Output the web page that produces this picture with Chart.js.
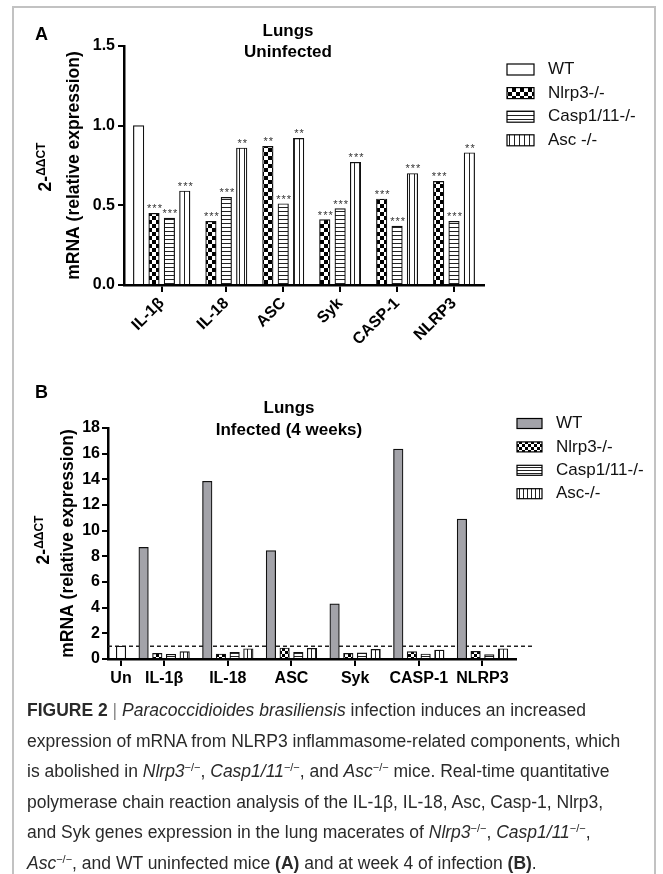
<!DOCTYPE html>
<html>
<head>
<meta charset="utf-8">
<script src="https://cdn.jsdelivr.net/npm/chart.js@4.4.1/dist/chart.umd.min.js"></script>
<style>
  body { margin: 0; background: #fff; }
  #page { position: relative; width: 663px; height: 874px; overflow: hidden;
          font-family: "Liberation Sans", Arial, Helvetica, sans-serif; color: #000; }
  #frame { position: absolute; left: 12px; top: 6px; width: 640px; height: 900px;
           border: 2px solid #c2c2c2; border-bottom: none; }
  canvas { position: absolute; left: 0; }
  .letter { position: absolute; left: 35px; font-weight: bold; font-size: 18px; line-height: 18px; }
  .title { position: absolute; width: 240px; text-align: center; font-weight: bold;
           font-size: 17px; line-height: 21px; }
  .ylab { position: absolute; transform: translate(-50%, -50%) rotate(-90deg);
          white-space: nowrap; font-weight: bold; font-size: 17.5px; }
  .ylab sup { font-size: 12px; }
  #caption { position: absolute; left: 27px; top: 695px; width: 630px; font-size: 17.5px;
             line-height: 30.5px; color: #2a2a2a; white-space: nowrap; }
  #caption sup { font-size: 11px; line-height: 0; vertical-align: 6px; }
  #caption .sep { color: #888; }
</style>
</head>
<body>
<div id="page">
  <div id="frame"></div>
  <canvas id="chartA" width="663" height="360" style="top:0"></canvas>
  <canvas id="chartB" width="663" height="340" style="top:360px"></canvas>

  <div class="letter" style="top:25px">A</div>
  <div class="title" style="left:168px;top:20px">Lungs<br>Uninfected</div>
  <div class="ylab" style="left:45px;top:167px">2-<sup>ΔΔCT</sup></div>

  <div class="letter" style="top:383px">B</div>
  <div class="title" style="left:169px;top:397px;line-height:22px">Lungs<br>Infected (4 weeks)</div>
  <div class="ylab" style="left:43px;top:540px">2-<sup>ΔΔCT</sup></div>

  <div id="caption">
    <b>FIGURE 2</b> <span class="sep">|</span> <i>Paracoccidioides brasiliensis</i> infection induces an increased<br>
    expression of mRNA from NLRP3 inflammasome-related components, which<br>
    is abolished in <i>Nlrp3</i><sup>−/−</sup>, <i>Casp1/11</i><sup>−/−</sup>, and <i>Asc</i><sup>−/−</sup> mice. Real-time quantitative<br>
    polymerase chain reaction analysis of the IL-1β, IL-18, Asc, Casp-1, Nlrp3,<br>
    and Syk genes expression in the lung macerates of <i>Nlrp3</i><sup>−/−</sup>, <i>Casp1/11</i><sup>−/−</sup>,<br>
    <i>Asc</i><sup>−/−</sup>, and WT uninfected mice <b>(A)</b> and at week 4 of infection <b>(B)</b>.
  </div>
</div>

<script>
// Panel A - lungs, uninfected
const genesA = ['IL-1β', 'IL-18', 'ASC', 'Syk', 'CASP-1', 'NLRP3'];
const wtA = [1.00, null, null, null, null, null];
const nlrp3A = [0.45, 0.40, 0.87, 0.41, 0.54, 0.65];
const caspA = [0.42, 0.55, 0.51, 0.48, 0.37, 0.40];
const ascA = [0.59, 0.86, 0.92, 0.77, 0.70, 0.83];
const starsNlrp3A = ['***', '***', '**', '***', '***', '***'];
const starsCaspA = ['***', '***', '***', '***', '***', '***'];
const starsAscA = ['***', '**', '**', '***', '***', '**'];
const yMaxA = 1.5;
const yStepA = 0.5;

// Panel B - lungs, infected (4 weeks)
const genesB = ['Un', 'IL-1β', 'IL-18', 'ASC', 'Syk', 'CASP-1', 'NLRP3'];
const unB = [1.0, null, null, null, null, null, null];
const wtB = [null, 8.7, 13.85, 8.45, 4.3, 16.35, 10.9];
const nlrp3B = [null, 0.44, 0.39, 0.86, 0.44, 0.57, 0.60];
const caspB = [null, 0.37, 0.52, 0.52, 0.49, 0.39, 0.35];
const ascB = [null, 0.57, 0.80, 0.83, 0.75, 0.70, 0.80];
const refLineB = 1;
const yMaxB = 18;
const yStepB = 2;

Chart.defaults.font.family = '"Liberation Sans", Arial, Helvetica, sans-serif';
Chart.defaults.color = '#000';

// groups hold as many bar slots as they have values, like the original graph
const groupLayout = (series, pad, gap) => {
  const counts = series[0].map((_, i) => series.filter(s => s[i] != null).length);
  const centers = [];
  let edge = pad;
  counts.forEach(n => {
    centers.push(edge + n / 2);
    edge += n + gap;
  });
  return { centers: centers, max: edge - gap + pad };
};

const makePattern = (kind, step) => {
  const c = document.createElement('canvas');
  const g = c.getContext('2d');
  if (kind === 'check') {
    c.width = c.height = step * 2;
    g.fillStyle = '#fff'; g.fillRect(0, 0, step * 2, step * 2);
    g.fillStyle = '#000';
    g.fillRect(0, 0, step, step);
    g.fillRect(step, step, step, step);
  } else if (kind === 'hlines') {
    c.width = 4; c.height = step;
    g.fillStyle = '#fff'; g.fillRect(0, 0, 4, step);
    g.fillStyle = '#222'; g.fillRect(0, step - 1, 4, 1);
  } else {
    c.width = step; c.height = 4;
    g.fillStyle = '#fff'; g.fillRect(0, 0, step, 4);
    g.fillStyle = '#222'; g.fillRect(step - 1, 0, 1, 4);
  }
  return g.createPattern(c, 'repeat');
};

// stars, dashed reference line and the key
const extras = {
  id: 'extras',
  beforeDatasetsDraw(chart, args, opts) {
    if (opts.refLine == null) return;
    const ctx = chart.ctx;
    const y = chart.scales.y.getPixelForValue(opts.refLine);
    ctx.save();
    ctx.setLineDash([4, 3]);
    ctx.lineWidth = 1.5;
    ctx.strokeStyle = '#222';
    ctx.beginPath();
    ctx.moveTo(chart.chartArea.left, y);
    ctx.lineTo(chart.chartArea.right + opts.refOverhang, y);
    ctx.stroke();
    ctx.restore();
  },
  afterDatasetsDraw(chart, args, opts) {
    const ctx = chart.ctx;
    ctx.save();
    ctx.font = '11px "Liberation Sans", Arial, sans-serif';
    ctx.letterSpacing = '1px';
    ctx.fillStyle = '#333';
    ctx.textAlign = 'center';
    ctx.textBaseline = 'alphabetic';
    chart.data.datasets.forEach((ds, di) => {
      if (!ds.stars) return;
      chart.getDatasetMeta(di).data.forEach((bar, i) => {
        if (ds.data[i] == null || !ds.stars[i]) return;
        ctx.fillText(ds.stars[i], bar.x + 1, bar.y - 1);
      });
    });
    ctx.letterSpacing = '0px';

    const key = opts.key;
    let row = 0;
    ctx.textAlign = 'left';
    ctx.textBaseline = 'middle';
    ctx.font = '17px "Liberation Sans", Arial, sans-serif';
    chart.data.datasets.forEach(ds => {
      if (ds.noKey) return;
      const cy = key.y + row * key.step;
      ctx.fillStyle = ds.backgroundColor;
      ctx.fillRect(key.x, cy - key.h / 2, key.w, key.h);
      ctx.strokeStyle = '#000';
      ctx.lineWidth = 1.2;
      ctx.strokeRect(key.x, cy - key.h / 2, key.w, key.h);
      ctx.fillStyle = '#111';
      ctx.fillText(ds.label, key.textX, cy);
      row++;
    });
    ctx.restore();
  }
};

const axisLine = { color: '#000', width: 2.5 };
const tickMarks = (len) => ({ drawOnChartArea: false, offset: false, tickLength: len, color: '#000', lineWidth: 2 });
const boldFont = (size) => ({ weight: 'bold', size: size });

// ---- chart A ----
const plotA = { left: 124, right: 484, top: 46, bottom: 285, height: 360 };
const groupsA = groupLayout([wtA, nlrp3A, caspA, ascA], 0.45, 0.7);
const pitchA = (plotA.right - plotA.left) / groupsA.max;
const barA = { barThickness: pitchA, maxBarThickness: 10.5, borderWidth: 1.2, borderColor: '#111', skipNull: true };

new Chart(document.getElementById('chartA'), {
  type: 'bar',
  data: {
    labels: groupsA.centers,
    datasets: [
      Object.assign({ label: 'WT', data: wtA, backgroundColor: '#fff' }, barA),
      Object.assign({ label: 'Nlrp3-/-', data: nlrp3A, backgroundColor: makePattern('check', 4), stars: starsNlrp3A }, barA),
      Object.assign({ label: 'Casp1/11-/-', data: caspA, backgroundColor: makePattern('hlines', 4), stars: starsCaspA }, barA),
      Object.assign({ label: 'Asc -/-', data: ascA, backgroundColor: makePattern('vlines', 5), stars: starsAscA }, barA)
    ]
  },
  plugins: [extras],
  options: {
    responsive: false,
    animation: false,
    layout: { padding: { left: 0, top: plotA.top, right: 663 - plotA.right, bottom: 0 } },
    plugins: {
      legend: { display: false },
      tooltip: { enabled: false },
      extras: { key: { x: 507, y: 69.5, step: 23.6, w: 27, h: 11, textX: 548 } }
    },
    scales: {
      x: {
        type: 'linear',
        offset: false,
        min: 0,
        max: groupsA.max,
        afterBuildTicks: (s) => { s.ticks = groupsA.centers.map(v => ({ value: v })); },
        afterFit: (s) => { s.height = plotA.height - plotA.bottom; },
        ticks: {
          autoSkip: false, minRotation: 45, maxRotation: 45, padding: 2,
          font: boldFont(16),
          callback: (v, i) => genesA[i]
        },
        grid: tickMarks(7),
        border: axisLine
      },
      y: {
        min: 0,
        max: yMaxA,
        afterFit: (s) => { s.width = plotA.left; },
        ticks: { stepSize: yStepA, padding: 3, font: boldFont(16), callback: v => v.toFixed(1) },
        grid: tickMarks(6),
        border: axisLine,
        title: { display: true, text: 'mRNA (relative expression)', font: boldFont(17.5), padding: { top: 63.5 } }
      }
    }
  }
});

// ---- chart B ----
const plotB = { left: 108, right: 516, top: 68, bottom: 299, height: 340 };
const groupsB = groupLayout([wtB, nlrp3B, caspB, ascB, unB], 0.45, 0.65);
const pitchB = (plotB.right - plotB.left) / groupsB.max;
const barB = { barThickness: pitchB, maxBarThickness: 9.5, borderWidth: 1.2, borderColor: '#111', skipNull: true };

new Chart(document.getElementById('chartB'), {
  type: 'bar',
  data: {
    labels: groupsB.centers,
    datasets: [
      Object.assign({ label: 'WT', data: wtB, backgroundColor: '#a3a3a9' }, barB),
      Object.assign({ label: 'Nlrp3-/-', data: nlrp3B, backgroundColor: makePattern('check', 3) }, barB),
      Object.assign({ label: 'Casp1/11-/-', data: caspB, backgroundColor: makePattern('hlines', 3) }, barB),
      Object.assign({ label: 'Asc-/-', data: ascB, backgroundColor: makePattern('vlines', 4) }, barB),
      Object.assign({ label: 'Un', data: unB, backgroundColor: '#fff', noKey: true }, barB)
    ]
  },
  plugins: [extras],
  options: {
    responsive: false,
    animation: false,
    layout: { padding: { left: 0, top: plotB.top, right: 663 - plotB.right, bottom: 0 } },
    plugins: {
      legend: { display: false },
      tooltip: { enabled: false },
      extras: {
        refLine: refLineB,
        refOverhang: 16,
        key: { x: 517, y: 63.5, step: 23.4, w: 25, h: 10, textX: 556 }
      }
    },
    scales: {
      x: {
        type: 'linear',
        offset: false,
        min: 0,
        max: groupsB.max,
        afterBuildTicks: (s) => { s.ticks = groupsB.centers.map(v => ({ value: v })); },
        afterFit: (s) => { s.height = plotB.height - plotB.bottom; },
        ticks: {
          autoSkip: false, minRotation: 0, maxRotation: 0, padding: 3,
          font: boldFont(16),
          callback: (v, i) => genesB[i]
        },
        grid: tickMarks(7),
        border: axisLine
      },
      y: {
        min: 0,
        max: yMaxB,
        afterFit: (s) => { s.width = plotB.left; },
        ticks: { stepSize: yStepB, padding: 2, font: boldFont(16) },
        grid: tickMarks(6),
        border: axisLine,
        title: { display: true, text: 'mRNA (relative expression)', font: boldFont(17.5), padding: { top: 57.5 } }
      }
    }
  }
});
</script>
</body>
</html>
